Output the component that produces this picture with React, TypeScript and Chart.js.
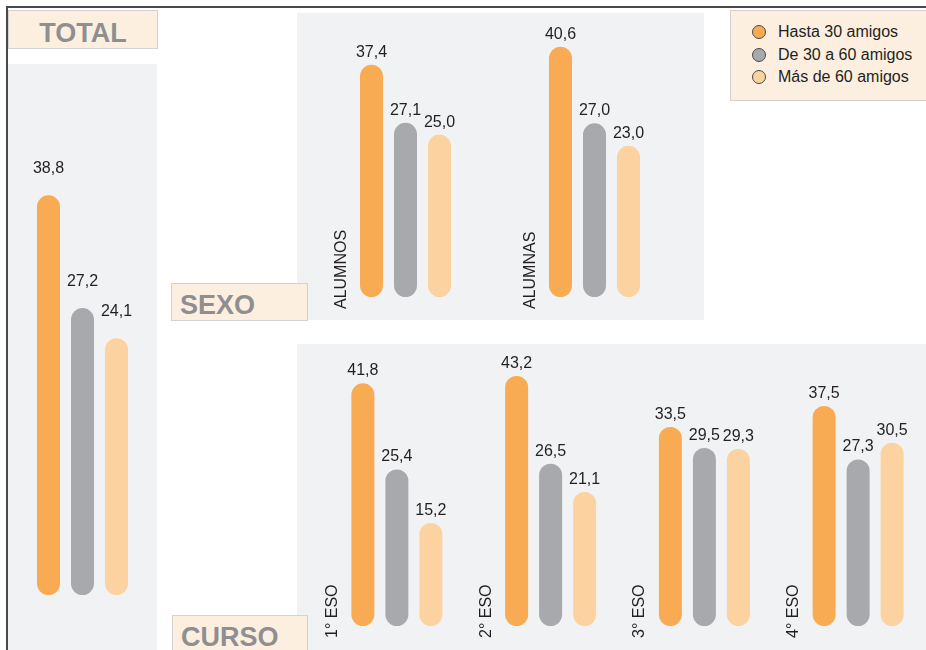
import React, { useEffect, useRef } from "react";
import { Chart, registerables } from "chart.js";

Chart.register(...registerables);

const FONT = '"Liberation Sans", Arial, Helvetica, sans-serif';

// ---- data ----
const seriesNames = ["Hasta 30 amigos", "De 30 a 60 amigos", "Más de 60 amigos"];
const seriesColors = ["#F9AB53", "#A8A9AC", "#FCD2A0"];

const totalCategories = ["TOTAL"];
const totalHasta30 = [38.8];
const totalDe30a60 = [27.2];
const totalMas60 = [24.1];

const sexoCategories = ["ALUMNOS", "ALUMNAS"];
const sexoHasta30 = [37.4, 40.6];
const sexoDe30a60 = [27.1, 27.0];
const sexoMas60 = [25.0, 23.0];

const cursoCategories = ["1° ESO", "2° ESO", "3° ESO", "4° ESO"];
const cursoHasta30 = [41.8, 43.2, 33.5, 37.5];
const cursoDe30a60 = [25.4, 26.5, 29.5, 27.3];
const cursoMas60 = [15.2, 21.1, 29.3, 30.5];

const fmt = (v: number) => v.toFixed(1).replace(".", ",");

type PanelCfg = {
  categories: string[];
  series: number[][];
  left: number;
  top: number;
  width: number;
  height: number;
  padding: { left: number; right: number; top: number; bottom: number };
  base: number;
  yMax: number;
  categoryPercentage: number;
  valueGap: number;
  showCategoryLabels: boolean;
};

function BarPanel({ cfg }: { cfg: PanelCfg }) {
  const ref = useRef<HTMLCanvasElement>(null);
  useEffect(() => {
    const plugin = {
      id: "panelLabels",
      afterDatasetsDraw(chart: any) {
        const ctx = chart.ctx as CanvasRenderingContext2D;
        ctx.save();
        ctx.font = `16px ${FONT}`;
        ctx.fillStyle = "#231F20";
        ctx.textAlign = "center";
        ctx.textBaseline = "alphabetic";
        chart.data.datasets.forEach((ds: any, di: number) => {
          const meta = chart.getDatasetMeta(di);
          meta.data.forEach((el: any, i: number) => {
            ctx.fillText(fmt(ds.data[i] as number), el.x, el.y - cfg.valueGap);
          });
        });
        if (cfg.showCategoryLabels) {
          const xs = chart.scales.x;
          const ys = chart.scales.y;
          const y0 = ys.getPixelForValue(cfg.base);
          ctx.font = `16px ${FONT}`;
          (chart.data.labels as string[]).forEach((lab, i) => {
            const cx = xs.getPixelForValue(i);
            ctx.save();
            ctx.translate(cx - 60, y0 + 12);
            ctx.rotate(-Math.PI / 2);
            ctx.textAlign = "left";
            ctx.fillText(lab, 0, 0);
            ctx.restore();
          });
        }
        ctx.restore();
      },
    };
    const chart = new Chart(ref.current!, {
      type: "bar",
      data: {
        labels: cfg.categories,
        datasets: cfg.series.map((d, i) => ({
          label: seriesNames[i],
          data: d,
          backgroundColor: seriesColors[i],
          borderWidth: 0,
          borderRadius: 12,
          borderSkipped: false,
          base: cfg.base,
          categoryPercentage: cfg.categoryPercentage,
          barPercentage: 23 / 34,
        })),
      },
      options: {
        responsive: false,
        animation: false,
        devicePixelRatio: 1,
        layout: { padding: cfg.padding },
        plugins: { legend: { display: false }, tooltip: { enabled: false } },
        scales: {
          x: { display: false, offset: true },
          y: { display: false, min: cfg.base, max: cfg.yMax },
        },
      },
      plugins: [plugin],
    } as any);
    return () => chart.destroy();
  }, []);
  return (
    <canvas
      ref={ref}
      width={cfg.width}
      height={cfg.height}
      style={{ position: "absolute", left: cfg.left, top: cfg.top, width: cfg.width, height: cfg.height }}
    />
  );
}

const totalCfg: PanelCfg = {
  categories: totalCategories,
  series: [totalHasta30, totalDe30a60, totalMas60],
  left: 8,
  top: 64,
  width: 149,
  height: 586,
  padding: { left: 8, right: 8, top: 71, bottom: 55 },
  base: -2.3,
  yMax: 45,
  categoryPercentage: 102 / 133,
  valueGap: 22.5,
  showCategoryLabels: false,
};

const sexoCfg: PanelCfg = {
  categories: sexoCategories,
  series: [sexoHasta30, sexoDe30a60, sexoMas60],
  left: 297,
  top: 13,
  width: 407,
  height: 307,
  padding: { left: 14, right: 15, top: 9, bottom: 23 },
  base: -3.84,
  yMax: 45,
  categoryPercentage: 102 / 189,
  valueGap: 8,
  showCategoryLabels: true,
};

const cursoCfg: PanelCfg = {
  categories: cursoCategories,
  series: [cursoHasta30, cursoDe30a60, cursoMas60],
  left: 297,
  top: 344,
  width: 653,
  height: 306,
  padding: { left: 23, right: 15, top: 22.5, bottom: 24 },
  base: -4.42,
  yMax: 45,
  categoryPercentage: 102 / 153.75,
  valueGap: 8,
  showCategoryLabels: true,
};

const titleStyle = (
  left: number,
  top: number,
  width: number,
  height: number,
  lineH: number,
  shift: number,
  center: boolean
): React.CSSProperties => ({
  position: "absolute",
  left,
  top,
  width,
  height,
  boxSizing: "border-box",
  background: "#FDEFE0",
  border: "1px solid #D2D2D2",
  color: "#8F8F91",
  fontFamily: FONT,
  fontWeight: "bold",
  fontSize: 27,
  lineHeight: `${lineH}px`,
  paddingTop: shift,
  textAlign: center ? "center" : "left",
  paddingLeft: center ? 0 : 8,
  overflow: "hidden",
});

export default function App() {
  return (
    <div
      style={{
        position: "absolute",
        left: 0,
        top: 0,
        width: 926,
        height: 650,
        overflow: "hidden",
        background: "#FFFFFF",
      }}
    >
      {/* frame */}
      <div
        style={{
          position: "absolute",
          left: 6,
          top: 6,
          width: 930,
          height: 660,
          borderTop: "2px solid #4A4A4A",
          borderLeft: "2px solid #4A4A4A",
        }}
      />
      {/* panels */}
      <div style={{ position: "absolute", left: 8, top: 64, width: 149, height: 600, background: "#F1F2F4" }} />
      <div style={{ position: "absolute", left: 297, top: 13, width: 407, height: 307, background: "#F1F2F4" }} />
      <div style={{ position: "absolute", left: 297, top: 344, width: 640, height: 320, background: "#F1F2F4" }} />

      <BarPanel cfg={totalCfg} />
      <BarPanel cfg={sexoCfg} />
      <BarPanel cfg={cursoCfg} />

      {/* titles */}
      <div style={titleStyle(8, 10, 150, 39, 37, 4, true)}>TOTAL</div>
      <div style={titleStyle(171, 283, 137, 38, 36, 3, false)}>SEXO</div>
      <div style={titleStyle(172, 615, 136, 50, 36, 3, false)}>CURSO</div>

      {/* legend */}
      <div
        style={{
          position: "absolute",
          left: 730,
          top: 10,
          width: 210,
          height: 91,
          boxSizing: "border-box",
          background: "#FDEFE0",
          border: "1px solid #D2D2D2",
          fontFamily: FONT,
          fontSize: 16,
          color: "#231F20",
        }}
      >
        {seriesNames.map((name, i) => (
          <div
            key={name}
            style={{ position: "absolute", left: 21, top: 11 + i * 22.5, height: 20, display: "flex", alignItems: "center" }}
          >
            <span
              style={{
                display: "inline-block",
                width: 14,
                height: 14,
                boxSizing: "border-box",
                borderRadius: "50%",
                background: seriesColors[i],
                border: "1px solid #4A4A4A",
                marginRight: 12,
              }}
            />
            <span>{name}</span>
          </div>
        ))}
      </div>
    </div>
  );
}
